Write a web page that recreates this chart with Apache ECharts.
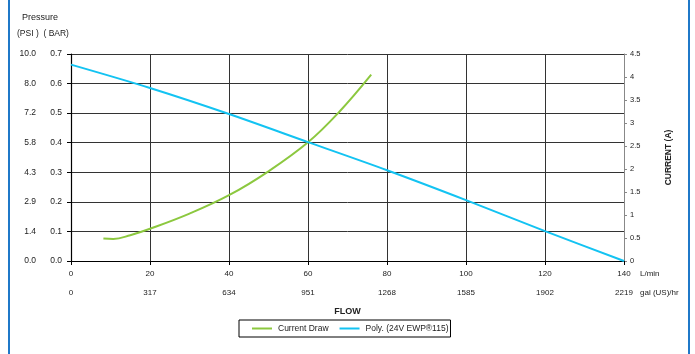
<!DOCTYPE html>
<html>
<head>
<meta charset="utf-8">
<script src="https://cdn.jsdelivr.net/npm/echarts@6/dist/echarts.min.js"></script>
<style>html,body{margin:0;padding:0;background:#fff}#c{width:695px;height:354px}</style>
</head>
<body>
<div id="c"></div>
<script>
// Tick labels
var flowLabels = [0, 20, 40, 60, 80, 100, 120, 140];
var galLabels = ['0', '317', '634', '951', '1268', '1585', '1902', '2219'];
var barLabels = ['0.0', '0.1', '0.2', '0.3', '0.4', '0.5', '0.6', '0.7'];
var psiLabels = ['0.0', '1.4', '2.9', '4.3', '5.8', '7.2', '8.0', '10.0'];
var currentLabels = ['0', '0.5', '1', '1.5', '2', '2.5', '3', '3.5', '4', '4.5'];

// Series: Current Draw (A) vs flow (L/min)
var currentFlow = [8.2, 10.7, 15, 20, 30, 40, 50, 60, 68, 76];
var currentAmps = [0.49, 0.48, 0.56, 0.70, 1.03, 1.43, 1.95, 2.58, 3.25, 4.05];

// Series: Poly. pressure (BAR) vs flow (L/min)
var pressFlow = [0, 20, 40, 60, 80, 100, 120, 140];
var pressBar = [0.664, 0.585, 0.497, 0.402, 0.307, 0.206, 0.101, 0.0];

var font = 'Liberation Sans, Arial, sans-serif';
var chart = echarts.init(document.getElementById('c'), null, {renderer: 'canvas'});

function pairs(xs, ys) { return xs.map(function (x, i) { return [x, ys[i]]; }); }

chart.setOption({
  animation: false,
  backgroundColor: '#fff',
  textStyle: {fontFamily: font},
  grid: {left: 71, right: 71, top: 54, height: 207, containLabel: false},
  xAxis: [{
    type: 'value', min: 0, max: 140, interval: 20, position: 'bottom',
    axisLine: {show: true, lineStyle: {color: '#000', width: 1.2}},
    axisTick: {show: true, length: 4, lineStyle: {color: '#000'}},
    axisLabel: {margin: 9, fontSize: 8, color: '#222', fontFamily: font,
      formatter: function (v) { return String(flowLabels[Math.round(v / 20)]); }},
    splitLine: {show: true, lineStyle: {color: '#333', width: 1}},
    name: 'FLOW', nameLocation: 'middle', nameGap: 46,
    nameTextStyle: {fontSize: 9, fontWeight: 'bold', color: '#222', fontFamily: font}
  }, {
    type: 'value', min: 0, max: 140, interval: 20, position: 'bottom', offset: 19,
    axisLine: {show: false}, axisTick: {show: false}, splitLine: {show: false},
    axisLabel: {margin: 9, fontSize: 8, color: '#222', fontFamily: font,
      formatter: function (v) { return galLabels[Math.round(v / 20)]; }}
  }],
  yAxis: [{
    type: 'value', min: 0, max: 0.7, interval: 0.1, position: 'left',
    axisLine: {show: true, lineStyle: {color: '#000', width: 1.2}},
    axisTick: {show: true, length: 4, lineStyle: {color: '#000'}},
    axisLabel: {margin: 9, fontSize: 8.5, color: '#222', fontFamily: font,
      formatter: function (v) { return barLabels[Math.round(v * 10)]; }},
    splitLine: {show: true, lineStyle: {color: '#333', width: 1}}
  }, {
    type: 'value', min: 0, max: 0.7, interval: 0.1, position: 'left', offset: 26,
    axisLine: {show: false}, axisTick: {show: false}, splitLine: {show: false},
    axisLabel: {margin: 9, fontSize: 8.5, color: '#222', fontFamily: font,
      formatter: function (v) { return psiLabels[Math.round(v * 10)]; }}
  }, {
    type: 'value', min: 0, max: 4.5, interval: 0.5, position: 'right',
    axisLine: {show: true, lineStyle: {color: '#888', width: 1}},
    axisTick: {show: true, length: 3, lineStyle: {color: '#888'}},
    axisLabel: {margin: 6, fontSize: 7.5, color: '#222', fontFamily: font,
      formatter: function (v) { return currentLabels[Math.round(v * 2)]; }},
    splitLine: {show: false},
    name: 'CURRENT (A)', nameLocation: 'middle', nameGap: 40, nameRotate: 90,
    nameTextStyle: {fontSize: 8.5, fontWeight: 'bold', color: '#222', fontFamily: font}
  }],
  legend: {
    top: 320, left: 239, itemGap: 11, itemWidth: 20, itemHeight: 2,
    icon: 'rect',
    padding: [4, 2, 4, 13],
    borderColor: '#000', borderWidth: 1, borderRadius: 0,
    textStyle: {fontSize: 8.5, color: '#222', fontFamily: font, padding: [0, 0, 0, 1]},
    data: ['Current Draw', 'Poly. (24V EWP\u00AE115)']
  },
  series: [{
    name: 'Current Draw', type: 'line', yAxisIndex: 2, xAxisIndex: 0,
    data: pairs(currentFlow, currentAmps), smooth: 0.4, symbol: 'none',
    lineStyle: {color: '#8cc83f', width: 2}, itemStyle: {color: '#8cc83f'}, z: 3
  }, {
    name: 'Poly. (24V EWP\u00AE115)', type: 'line', yAxisIndex: 0, xAxisIndex: 0,
    data: pairs(pressFlow, pressBar), smooth: 0.3, symbol: 'none',
    lineStyle: {color: '#13c3f2', width: 2}, itemStyle: {color: '#13c3f2'}, z: 4
  }],
  graphic: [
    {type: 'text', left: 22, top: 13, style: {text: 'Pressure', font: '9px ' + font, fill: '#222'}},
    {type: 'text', left: 17, top: 29, style: {text: '(PSI )  ( BAR)', font: '8.5px ' + font, fill: '#222'}},
    {type: 'text', left: 640, top: 270, style: {text: 'L/min', font: '8px ' + font, fill: '#222'}},
    {type: 'text', left: 640, top: 289, style: {text: 'gal (US)/hr', font: '8px ' + font, fill: '#222'}},
    {type: 'line', shape: {x1: 9, y1: 0, x2: 9, y2: 354}, style: {stroke: '#1f78c8', lineWidth: 2}},
    {type: 'line', shape: {x1: 689, y1: 0, x2: 689, y2: 354}, style: {stroke: '#1f78c8', lineWidth: 2}}
  ]
});
</script>
</body>
</html>
